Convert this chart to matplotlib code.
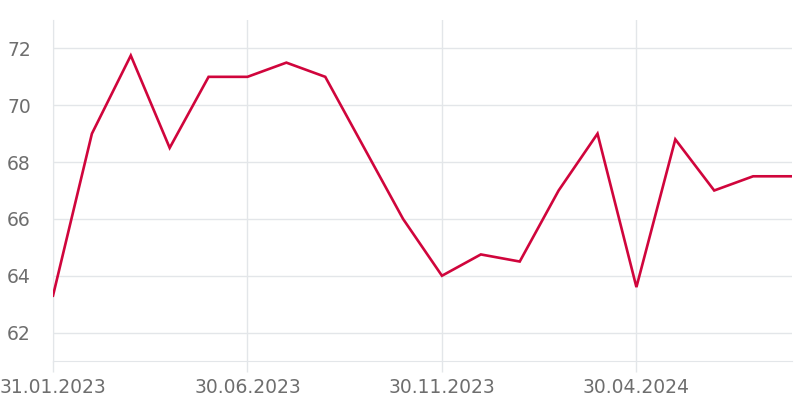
import pandas as pd
import matplotlib
matplotlib.use("Agg")
import matplotlib.pyplot as plt

# monthly values, Jan 2023 .. Aug 2024
dates = pd.date_range("2023-01-31", periods=20, freq="ME")
values = [63.3, 69.0, 71.75, 68.5, 71.0, 71.0, 71.5, 71.0, 68.5, 66.0,
          64.0, 64.75, 64.5, 67.0, 69.0, 63.6, 68.8, 67.0, 67.5, 67.5]
tick_idx = [0, 5, 10, 15]
y_ticks = [62, 64, 66, 68, 70, 72]

grid_col = "#e3e6e9"
text_col = "#6e6e6e"
line_col = "#d0053c"

plt.rcParams["font.family"] = ["DejaVu Sans"]

fig = plt.figure(figsize=(8.05, 4.0), dpi=100)
ax = fig.add_axes([53 / 805, 39 / 400, (792 - 53) / 805, (361 - 20) / 400])

x = list(range(len(values)))
ax.plot(x, values, color=line_col, lw=1.9, solid_joinstyle="miter", zorder=3)

ax.set_xlim(0, len(values) - 1)
ax.set_ylim(61, 73)

ax.set_yticks(y_ticks)
ax.set_xticks(tick_idx)
ax.set_xticklabels([dates[i].strftime("%d.%m.%Y") for i in tick_idx])

ax.grid(True, color=grid_col, lw=1)
for s in ["top", "right"]:
    ax.spines[s].set_visible(False)
ax.spines["left"].set_color(grid_col)
ax.spines["bottom"].set_color(grid_col)

ax.tick_params(axis="y", length=0, pad=16, labelsize=13.5, labelcolor=text_col)
ax.tick_params(axis="x", length=8, width=1, color=grid_col, pad=4,
               labelsize=13.5, labelcolor=text_col)

fig.savefig("out.png", dpi=100)
